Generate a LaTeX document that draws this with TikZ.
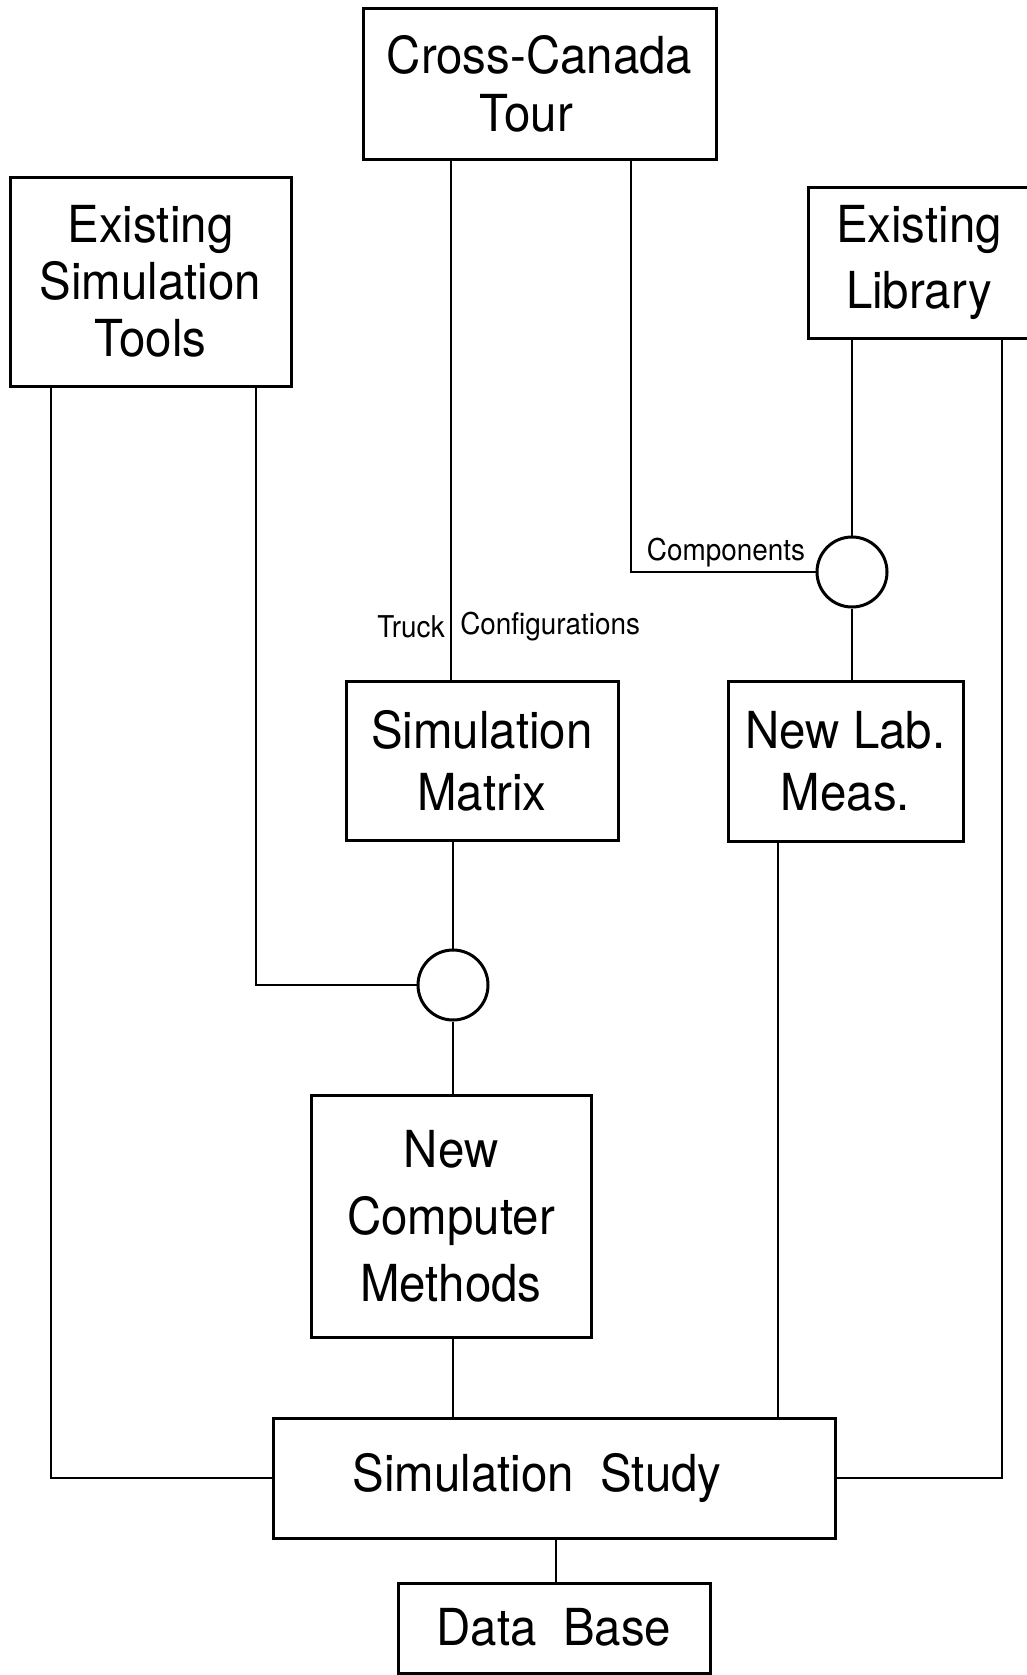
\documentclass[tikz,border=0pt]{standalone}
\usepackage{fontspec}
\setmainfont{TeX Gyre Heros}[FakeStretch=0.93]
\usepackage{tikz}

\begin{document}
\begin{tikzpicture}[x=1pt,y=-1pt,
  main/.style = {draw, line width=3pt, align=center, inner sep=0pt,
    font=\fontsize{51}{62}\selectfont},
  junction/.style = {draw, circle, line width=3pt, minimum size=70pt, inner sep=0pt},
  small/.style = {inner sep=0pt, font=\fontsize{30}{34}\selectfont},
  every path/.style = {line width=2.5pt}]
\useasboundingbox (0,0) rectangle (1026,1675);
\node[main, minimum width=353pt, minimum height=151pt] (0) at (539.5,84) {Cross-Canada\\[-4pt]\hspace*{-26pt}Tour};
\node[main, minimum width=281pt, minimum height=209pt] (1) at (150.5,281.5) {Existing\\[-5pt]Simulation\\[-5pt]Tools};
\node[main, minimum width=222pt, minimum height=151pt] (2) at (919,262.5) {Existing\\[4pt]Library};
\node[main, minimum width=272pt, minimum height=159pt] (3) at (482,760.5) {Simulation\\Matrix};
\node[main, minimum width=235pt, minimum height=160pt] (4) at (845.5,761) {New Lab.\\Meas.};
\node[main, minimum width=280pt, minimum height=242pt] (5) at (451,1216) {New\\[5pt]Computer\\[5pt]Methods};
\node[main, minimum width=562pt, minimum height=120pt] (6) at (554,1478) {\hspace*{-34pt}\raisebox{4pt}{Simulation\ \ Study}};
\node[main, minimum width=312pt, minimum height=90pt] (7) at (554,1628) {\raisebox{3pt}{Data\ \ Base}};
\node[junction] (8) at (852,572) {};
\node[junction] (9) at (453,985) {};
\draw (0.south -| 451,0) -- (3.north -| 451,0);
\draw (0.south -| 631,0) |- (8.west);
\draw (2.south -| 8.north) -- (8.north);
\draw (8.south) -- (4.north -| 8.south);
\draw (2.south -| 1002,0) |- (6.east);
\draw (1.south -| 51,0) |- (6.west);
\draw (1.south -| 256,0) |- (9.west);
\draw (3.south -| 9.north) -- (9.north);
\draw (9.south) -- (5.north -| 9.south);
\draw (5.south -| 453,0) -- (6.north -| 453,0);
\draw (4.south -| 778,0) -- (6.north -| 778,0);
\draw (6.south -| 556,0) -- (7.north -| 556,0);
\node[small, anchor=east] (truck) at (446,627) {Truck};
\node[small, anchor=west] (config) at (459,627) {Configurations};
\node[small] (comp) at (726,553) {Components};
\end{tikzpicture}
\end{document}
